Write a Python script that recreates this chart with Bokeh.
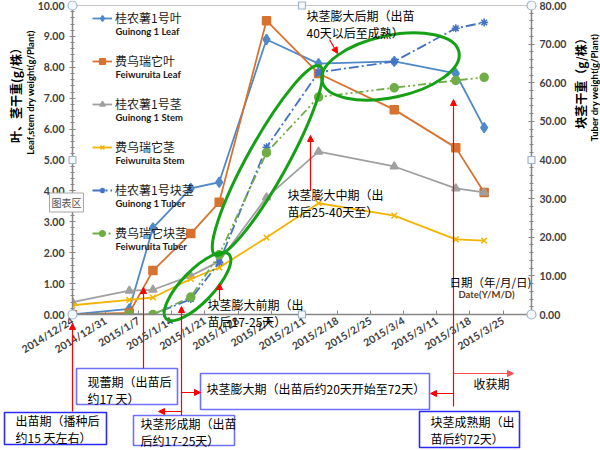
import pandas as pd
from bokeh.plotting import figure
from bokeh.models import (Range1d, LinearAxis, FixedTicker, SingleIntervalTicker, Label, Arrow,
                          NormalHead, BoxAnnotation, Legend, LegendItem, NumeralTickFormatter)
from bokeh.embed import file_html
from bokeh.resources import INLINE

# ---------------- data ----------------
sample_dates = ["2014/12/24", "2015/1/5", "2015/1/10", "2015/1/18", "2015/1/24",
                "2015/2/3", "2015/2/14", "2015/3/2", "2015/3/15", "2015/3/21"]
guinong_leaf = [0.0, 0.18, 2.80, 4.08, 4.28, 8.90, 8.12, 8.19, 7.80, 6.05]
feiwu_leaf = [0.0, 0.05, 1.42, 2.62, 3.63, 9.51, 7.80, 6.63, 5.40, 3.95]
guinong_stem = [0.40, 0.77, 0.80, 1.25, 1.72, 3.79, 5.27, 4.79, 4.08, 3.95]
feiwu_stem = [0.30, 0.47, 0.55, 1.15, 1.52, 2.49, 3.60, 3.20, 2.43, 2.39]
guinong_tuber = [0.0, 0.0, 0.0, 4.0, 13.5, 43.3, 62.7, 65.5, 74.1, 75.6]
feiwu_tuber = [0.0, 0.0, 0.0, 4.5, 15.5, 41.9, 56.3, 58.7, 60.6, 61.4]
tick_labels = ["2014/12/24", "2014/12/31", "2015/1/7", "2015/1/14", "2015/1/21", "2015/1/28",
               "2015/2/4", "2015/2/11", "2015/2/18", "2015/2/25", "2015/3/4", "2015/3/11",
               "2015/3/18", "2015/3/25"]
axis_end_date = "2015/3/31"

start = pd.Timestamp("2014-12-24")
def day(s):
    return int((pd.Timestamp(s.replace("/", "-")) - start).days)

xs = [day(d) for d in sample_dates]
XMAX = day(axis_end_date)

# ---------------- layout geometry ----------------
W, H = 600, 450
FL, FR, FT, FB = 72, 531, 5, 314
PPD = (FR - FL) / XMAX
PPU = (FB - FT) / 10.0
def X(px):
    return (px - FL) / PPD
def Y(py):
    return (FB - py) / PPU

p = figure(width=W, height=H, output_backend="svg", toolbar_location=None,
           x_range=Range1d(0, XMAX), y_range=Range1d(0, 10),
           min_border_left=FL, min_border_right=W - FR, min_border_top=FT,
           min_border_bottom=H - FB, x_axis_location=None, y_axis_location=None)
p.extra_y_ranges = {"right": Range1d(0, 80)}
p.xgrid.visible = False
p.ygrid.visible = False
p.outline_line_color = "#c8c8c8"
p.background_fill_color = "white"
p.border_fill_color = "white"

AX = "#868686"
TL = "#404040"
TF = "Lato"

xax = LinearAxis(ticker=FixedTicker(ticks=[day(t) for t in tick_labels]),
                 major_label_overrides={day(t): t for t in tick_labels})
xax.major_label_orientation = 0.55
yl = LinearAxis(ticker=SingleIntervalTicker(interval=1, num_minor_ticks=5),
                formatter=NumeralTickFormatter(format="0.00"))
yr = LinearAxis(y_range_name="right", ticker=SingleIntervalTicker(interval=10, num_minor_ticks=5),
                formatter=NumeralTickFormatter(format="0.00"))
for ax in (xax, yl, yr):
    ax.axis_line_color = AX
    ax.axis_line_width = 1.5
    ax.major_tick_line_color = AX
    ax.minor_tick_line_color = AX
    ax.major_label_text_color = TL
    ax.major_label_text_font = TF
    ax.major_label_text_font_style = "bold"
    ax.major_label_text_font_size = "10.5px"
xax.major_tick_in = 4
xax.major_tick_out = 0
xax.minor_tick_line_color = None
xax.major_label_standoff = 5
for ax in (yl, yr):
    ax.major_tick_in = 3
    ax.major_tick_out = 3
    ax.minor_tick_in = 2
    ax.minor_tick_out = 2
    ax.major_label_standoff = 5
p.add_layout(xax, "below")
p.add_layout(yl, "left")
p.add_layout(yr, "right")

# ---------------- series ----------------
series = [
    ("桂农薯1号叶", "Guinong 1 Leaf", guinong_leaf, "#4f89c8", "diamond", 10, "solid", "default"),
    ("费乌瑞它叶", "Feiwuruita Leaf", feiwu_leaf, "#d8722f", "square", 8, "solid", "default"),
    ("桂农薯1号茎", "Guinong 1 Stem", guinong_stem, "#a0a0a0", "triangle", 8, "solid", "default"),
    ("费乌瑞它茎", "Feiwuruita Stem", feiwu_stem, "#f2b400", "x", 8, "solid", "default"),
    ("桂农薯1号块茎", "Guinong 1 Tuber", guinong_tuber, "#4472c4", "asterisk", 8, "10 3 2 3", "right"),
    ("费乌瑞它块茎", "Feiwuruita Tuber", feiwu_tuber, "#70ad47", "circle", 8, "8 3 2 3 2 3", "right"),
]
items = []
for zh, en, ys, col, mk, sz, dash, rng in series:
    lr = p.line(xs, ys, line_color=col, line_width=1.8, line_dash=dash, y_range_name=rng)
    sr = p.scatter(xs, ys, marker=mk, size=sz, fill_color=col, line_color=col,
                   line_width=1.5, y_range_name=rng)
    items.append(LegendItem(label=zh, renderers=[lr, sr]))

legend = Legend(items=items, location=(20, 73), background_fill_alpha=0, border_line_color=None,
                padding=0, margin=0, glyph_width=20, glyph_height=14, label_height=14,
                spacing=26, label_standoff=3, label_text_font="Noto Sans CJK SC",
                label_text_font_size="12px", label_text_color="#1a1a1a")
p.add_layout(legend)

for i, (zh, en, *_r) in enumerate(series):
    p.add_layout(Label(x=X(115), y=Y(31 + 43 * i), text=en, text_font="Lato",
                       text_font_style="bold", text_font_size="9.5px", text_color="#1a1a1a",
                       text_baseline="middle"))

# ---------------- overlay figure for annotations (covers the whole picture) ----------------
ov = figure(width=W, height=H, output_backend="svg", toolbar_location=None,
            x_range=Range1d(X(0), X(W)), y_range=Range1d(Y(H), Y(0)),
            min_border=0, min_border_left=0, min_border_right=0, min_border_top=0,
            min_border_bottom=0, x_axis_location=None, y_axis_location=None)
ov.xgrid.visible = False
ov.ygrid.visible = False
ov.outline_line_color = None
ov.background_fill_alpha = 0
ov.border_fill_alpha = 0
ov.margin = (-H, 0, 0, 0)

CJK = "Noto Sans CJK SC"

# ellipses
GREEN_E = "#16a016"
for cx, cy, w, h, a in [(197, 286, 90, 32, 46), (267, 160, 216, 40, 61), (390, 66, 140, 62, 12)]:
    ov.ellipse(x=X(cx), y=Y(cy), width=w, height=h, angle=a, angle_units="deg",
               width_units="screen", height_units="screen", fill_color=None,
               line_color=GREEN_E, line_width=3)

# boxes
DB = "#2a2aff"
LB = "#7070ff"
for x0, y0, x1, y1, col in [(4, 412, 106, 444, DB), (76, 368, 177, 404, LB),
                            (133, 415, 234, 445, LB), (200, 373, 429, 409, LB),
                            (419, 411, 519, 447, DB)]:
    ov.add_layout(BoxAnnotation(left=X(x0), right=X(x1), top=Y(y0), bottom=Y(y1),
                                fill_color="white", fill_alpha=1, line_color=col,
                                line_width=1.6, line_alpha=1))

# arrows
RED = "#ff0000"
def arrow(x0, y0, x1, y1, col=RED):
    ov.add_layout(Arrow(x_start=X(x0), y_start=Y(y0), x_end=X(x1), y_end=Y(y1),
                        end=NormalHead(size=6, fill_color=col, line_color=col),
                        line_color=col, line_width=1.2))

arrow(72, 411, 72, 323)
arrow(143, 368, 143, 287)
arrow(181, 415, 181, 306)
arrow(181, 411, 158, 411)
arrow(181, 392, 200, 392)
arrow(219, 300, 219, 283)
arrow(310, 190, 310, 135)
arrow(329, 39, 337, 53)
arrow(453, 406, 453, 99)
arrow(453, 373, 513, 373, col="#ff5050")
arrow(453, 393, 430, 393)

# texts
def txt(px, py, s, size="12px", font=CJK, color="#000", style="normal", baseline="middle",
        align="left", angle=0, lh=1.0):
    ov.add_layout(Label(x=X(px), y=Y(py), text=s, text_font=font, text_font_size=size,
                        text_color=color, text_font_style=style, text_baseline=baseline,
                        text_align=align, text_line_height=lh, angle=angle))

txt(306, 23, "块茎膨大后期（出苗\n40天以后至成熟）")
txt(287, 202, "块茎膨大中期（出\n苗后25-40天至）")
txt(207, 312.5, "块茎膨大前期（出\n苗后17-25天）")
txt(449, 281, "日期（年/月/日)", size="11.5px")
txt(458, 294, "Date(Y/M/D)", size="9.5px", font="Lato", color="#5a3a1a", style="bold")
txt(473, 383, "收获期")
txt(15, 428.5, "出苗期（播种后\n约15 天左右）")
txt(87, 389.5, "现蕾期（出苗后\n约17 天）")
txt(140, 431, "块茎形成期（出苗\n后约17-25天）")
txt(206, 388, "块茎膨大期（出苗后约20天开始至72天）")
txt(430, 429, "块茎成熟期（出\n苗后约72天）")

# axis titles
txt(15, 92, "叶、茎干重(g/株）", style="bold", align="center", angle=1.5708)
txt(30, 92, "Leaf,stem dry weight(g/Plant)", size="9.5px", font="Lato", style="bold",
    align="center", angle=1.5708)
txt(580, 80, "块茎干重（g/株）", style="bold", align="center", angle=1.5708)
txt(594, 87, "Tuber dry weight(g/Plant)", size="9.5px", font="Lato", style="bold",
    align="center", angle=1.5708)

# chart-area tip
ov.add_layout(Label(x=X(66), y=Y(202), text="图表区", text_font=CJK, text_font_size="10px",
                    text_color="#555", text_align="center", text_baseline="middle",
                    border_line_color="#a8a8a8", background_fill_color="#fafafa", padding=2))

# selection handles of the plot area
ov.scatter(x=[X(FL), X(FR), X(FL), X(FR)], y=[Y(FT), Y(FT), Y(FB), Y(FB)], marker="circle",
           size=9, fill_color="#f4f8fc", line_color="#9fb4c8", line_width=1.2)
ov.scatter(x=[X((FL + FR) / 2), X((FL + FR) / 2), X(FL), X(FR)],
           y=[Y(FT), Y(FB), Y((FT + FB) / 2), Y((FT + FB) / 2)], marker="square",
           size=7, fill_color="#f4f8fc", line_color="#9fb4c8", line_width=1.2)

open("out.html", "w").write(file_html([p, ov], INLINE))
